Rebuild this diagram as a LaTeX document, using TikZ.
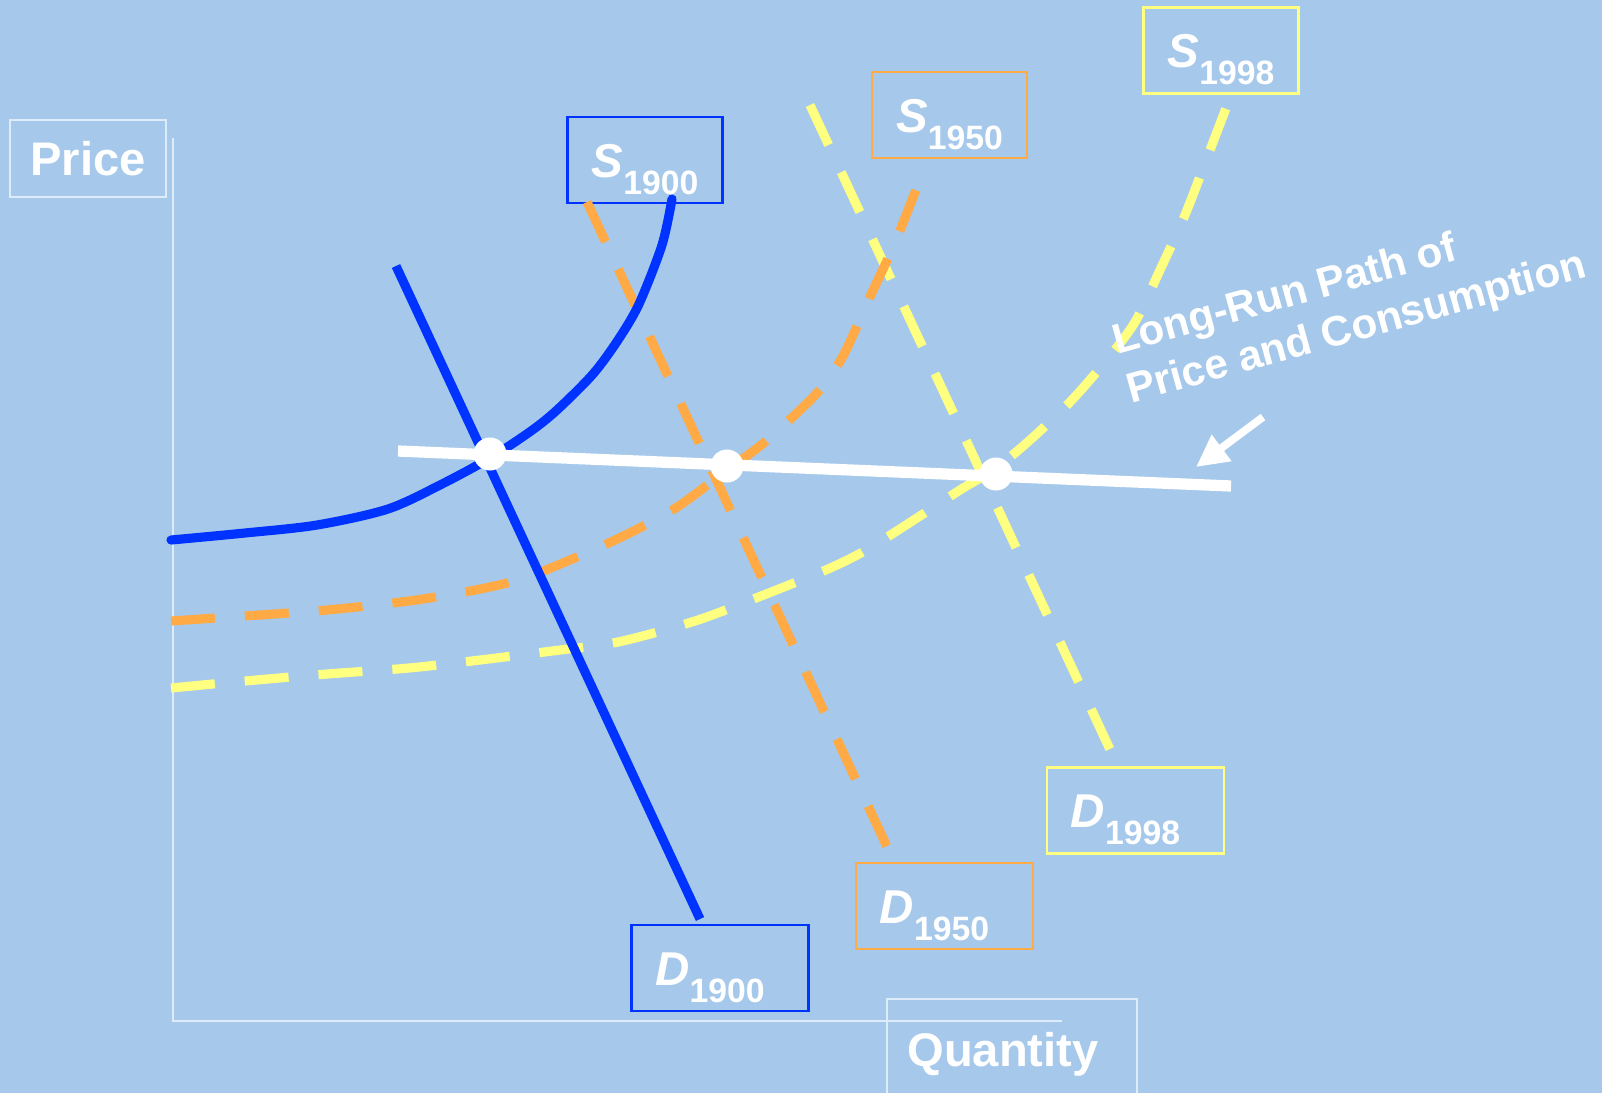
\documentclass[tikz,border=0pt]{standalone}
\usepackage{fontspec}
\setmainfont{Liberation Sans}
\usepackage{xcolor}
\usepackage{tikz}
\usetikzlibrary{arrows.meta, positioning, calc, shapes.geometric}
\definecolor{skyblue}{RGB}{166,201,235}
\definecolor{deepblue}{RGB}{0,51,255}
\definecolor{amber}{RGB}{255,170,68}
\definecolor{lemon}{RGB}{255,255,128}
\definecolor{paleline}{RGB}{222,236,249}
\tikzset{
  tag/.style={draw=#1, line width=0.7pt, minimum height=0.86cm, inner sep=0pt,
    text height=0.46cm, text depth=0.12cm, text=white, font=\bfseries\fontsize{13.5}{14}\selectfont},
  stag/.style={tag=#1, minimum width=1.55cm},
  dtag/.style={tag=#1, minimum width=1.77cm, execute at end node={\kern0.2cm}},
  frame/.style={draw=paleline, line width=0.6pt},
  axislabel/.style={text=white, font=\bfseries\fontsize{13.4}{14}\selectfont, inner sep=0pt},
  curve/.style={line width=2.6pt},
  dashcurve/.style={curve, dash pattern=on 0.44cm off 0.3cm},
  longrun/.style={draw=white, line width=3.2pt},
  eqdot/.style={circle, fill=white, minimum size=0.33cm, inner sep=0pt},
  pathnote/.style={text=white, font=\bfseries\fontsize{12}{14.4}\selectfont, align=left, inner sep=0pt},
  pointer/.style={draw=white, line width=2.2pt, -{Triangle[length=0.32cm, width=0.31cm]}}
}
\newcommand{\curvetag}[2]{{\itshape #1}\raisebox{-0.17cm}{\fontsize{9.6}{10}\selectfont #2}}

\begin{document}
\begin{tikzpicture}[x=0.01cm, y=-0.01cm]
        % Background
        \fill[skyblue] (0,0) rectangle (1602,1093);
        \useasboundingbox (0,0) rectangle (1602,1093);

        % Axes
        \coordinate (origin) at (173,1021);
        \draw[frame] (173,138) -- (origin) -- (1062,1021);
        \node[frame, axislabel, minimum width=1.56cm, minimum height=0.77cm] (price) at (88,158.5) {Price};
        \draw[frame] (887,1093) |- (1137,999) -- (1137,1093);
        \node[axislabel] (quantity) at (1003,1054) {Quantity};

        % Curve labels
        \node[stag=deepblue] (s1900) at (645,160) {\curvetag{S}{1900}};
        \node[stag=amber]    (s1950) at (949.5,115) {\curvetag{S}{1950}};
        \node[stag=lemon]    (s1998) at (1221,50.5) {\curvetag{S}{1998}};
        \node[dtag=deepblue] (d1900) at (720,968) {\curvetag{D}{1900}};
        \node[dtag=amber]    (d1950) at (944.5,906) {\curvetag{D}{1950}};
        \node[dtag=lemon]    (d1998) at (1135.5,810.5) {\curvetag{D}{1998}};

        % 1998
        \draw[dashcurve, lemon] (810,105) -- (1114,758);
        \draw[dashcurve, lemon] plot[smooth, tension=0.5] coordinates {(171,688) (245,681) (327,674) (409,668) (480,660) (552,651) (618,642) (695,621) (756,598) (828,569) (868,549) (920,516) (960,490) (996,468) (1030,440) (1070,402) (1105,362) (1135,322) (1160,270) (1185,215) (1210,150) (1228,103)};

        % 1950
        \draw[dashcurve, amber] (587,202) -- (889,851);
        \draw[dashcurve, amber] plot[smooth, tension=0.5] coordinates {(171,621) (245,616) (327,610) (409,601) (470,591) (511,582) (541,572) (613,541) (674,509) (727,470) (766,441) (817,393) (843,356) (868,301) (894,245) (917,187)};

        % 1900
        \draw[curve, deepblue] (396,266) -- (700,919);
        \draw[curve, deepblue, line cap=round] plot[smooth, tension=0.5] coordinates {(171,540) (245,533) (317,525) (388,509) (442,484) (490,458) (531,431) (557,410) (593,374) (618,340) (639,304) (662,245) (672,199)};

        % Long-run path
        \coordinate (lr0) at (398,451);
        \coordinate (lr1) at (1231,486);
        \draw[longrun] (lr0) -- (lr1);
        \node[eqdot] (e1900) at (490,454) {};
        \node[eqdot] (e1950) at (727,466) {};
        \node[eqdot] (e1998) at (996,474) {};

        \node[pathnote, rotate=15.5] (lrnote) at (1350,305) {Long-Run Path of\\Price and Consumption};
        \coordinate (arrtail) at (1263,417);
        \coordinate (arrtip) at (1196,467);
        \draw[pointer] (arrtail) -- (arrtip);
    \end{tikzpicture}
\end{document}
